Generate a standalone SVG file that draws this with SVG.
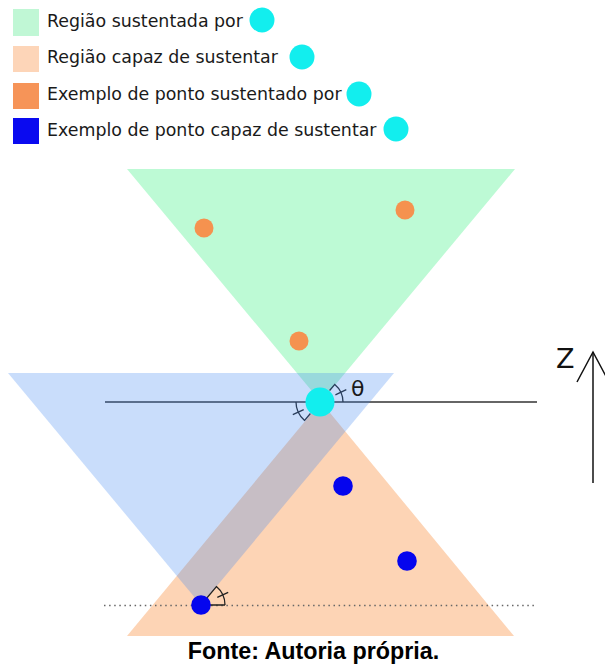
<svg xmlns="http://www.w3.org/2000/svg" width="605" height="666" viewBox="0 0 605 666">
<style>
.t{font-family:"DejaVu Sans",sans-serif;font-size:17.4px;fill:#1a1a1a}
.mk{fill:none;stroke:#222;stroke-width:1.3}
.cy{fill:#12eeee}
.or{fill:#f5924f}
.bl{fill:#0505ee}
</style>
<rect width="605" height="666" fill="#fff"/>
<g id="legend">
<rect x="13" y="9" width="26" height="27" fill="#c0f7d5"/>
<text class="t" x="47" y="27">Região sustentada por</text>
<circle class="cy" cx="262" cy="20" r="12.5"/>
<rect x="13" y="46" width="26" height="26" fill="#fdd5b8"/>
<text class="t" x="47" y="63">Região capaz de sustentar</text>
<circle class="cy" cx="302" cy="57" r="12.5"/>
<rect x="13" y="83" width="26" height="26" fill="#f69458"/>
<text class="t" x="47" y="100">Exemplo de ponto sustentado por</text>
<circle class="cy" cx="359" cy="94" r="12.5"/>
<rect x="13" y="118" width="26" height="26" fill="#0a0af0"/>
<text class="t" x="47" y="136">Exemplo de ponto capaz de sustentar</text>
<circle class="cy" cx="396" cy="129" r="12.5"/>
</g>
<g id="region-sustentada">
<polygon points="127,169 515,169 321,402" fill="#bdfad5"/>
</g>
<g id="region-capaz">
<polygon points="321,402 514,636 127,636" fill="#fdd4b5"/>
</g>
<g id="connectors">
<line x1="105" y1="402" x2="537" y2="402" stroke="#333" stroke-width="1.5"/>
<path class="mk" d="M329.6,390.5 L334.8,384.4 A23 23 0 0 1 343,402 M335.4,394.8 L346.3,389.7"/>
<path class="mk" d="M310.4,413.5 L304.6,420.4 A24 24 0 0 1 296,402 M303.7,409.6 L292.8,414.7"/>
</g>
<g id="region-blue">
<polygon points="8,373 394,373 201,605" fill="rgb(62,134,241)" fill-opacity="0.28"/>
</g>
<g id="dotted">
<line x1="104" y1="605.5" x2="535" y2="605.5" stroke="#666" stroke-width="1.5" stroke-dasharray="1.5 3.6"/>
<path class="mk" d="M201,605 L225,605 M201,605 L216.4,586.6 A24 24 0 0 1 225,605 M217.3,597.4 L228.2,592.3"/>
</g>
<g id="points">
<circle class="or" cx="204" cy="228" r="9.5"/>
<circle class="or" cx="405" cy="210" r="9.5"/>
<circle class="or" cx="299" cy="341" r="9.5"/>
<circle class="bl" cx="343" cy="486" r="9.8"/>
<circle class="bl" cx="407" cy="561" r="9.8"/>
<circle class="bl" cx="201" cy="605" r="9.8"/>
</g>
<g id="center-point">
<circle class="cy" cx="320" cy="402" r="14.5"/>
</g>
<g id="theta">
<text x="351" y="396" font-family="DejaVu Sans,sans-serif" font-size="22" fill="#1a1a1a">θ</text>
</g>
<g id="z-axis">
<line x1="593" y1="483" x2="593" y2="352" stroke="#111" stroke-width="1.5"/>
<polyline points="577,382 593,352 609,382" fill="none" stroke="#111" stroke-width="1.5"/>
<text x="556" y="368" font-family="DejaVu Sans,sans-serif" font-size="27" fill="#111">Z</text>
</g>
<g id="caption">
<text x="313.5" y="659" text-anchor="middle" font-family="Liberation Sans,Arial,sans-serif" font-weight="bold" font-size="23.3" fill="#000">Fonte: Autoria própria.</text>
</g>
</svg>
